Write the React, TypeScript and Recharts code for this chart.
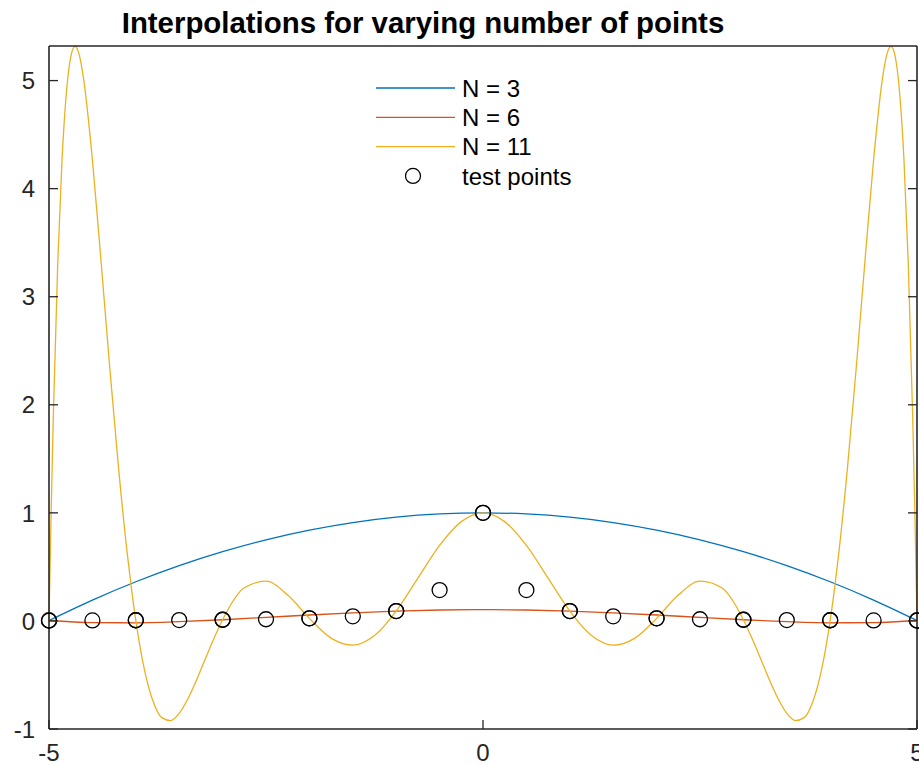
import { ComposedChart, Line, Scatter, XAxis, YAxis, Legend } from "recharts";

// Runge-style interpolation curves
const x3 = [-5, -4.5, -4, -3.5, -3, -2.5, -2, -1.5, -1, -0.5, 0, 0.5, 1, 1.5, 2, 2.5, 3, 3.5, 4, 4.5, 5];
const y3 = [0.004, 0.1932, 0.3625, 0.512, 0.6414, 0.751, 0.8406, 0.9104, 0.9602, 0.99, 1, 0.99, 0.9602, 0.9104, 0.8406, 0.751, 0.6414, 0.512, 0.3625, 0.1932, 0.004];

const x6 = [-5, -4.5, -4, -3.5, -3, -2.5, -2, -1.5, -1, -0.5, 0, 0.5, 1, 1.5, 2, 2.5, 3, 3.5, 4, 4.5, 5];
const y6 = [0.004, -0.0152, -0.0172, -0.0069, 0.011, 0.0327, 0.055, 0.0751, 0.0909, 0.101, 0.1045, 0.101, 0.0909, 0.0751, 0.055, 0.0327, 0.011, -0.0069, -0.0172, -0.0152, 0.004];

const x11 = [
  -5, -4.975, -4.95, -4.9, -4.85, -4.8, -4.75, -4.7, -4.65, -4.6, -4.5, -4.4, -4.3, -4.2, -4.1, -4.05, -4, -3.95, -3.9,
  -3.8, -3.7, -3.6, -3.5, -3.4, -3.3, -3.2, -3.1, -3, -2.75, -2.5, -2.25, -2, -1.75, -1.5, -1.25, -1, -0.75, -0.5, -0.25,
  0, 0.25, 0.5, 0.75, 1, 1.25, 1.5, 1.75, 2, 2.25, 2.5, 2.75, 3, 3.1, 3.2, 3.3, 3.4, 3.5, 3.6, 3.7, 3.8, 3.9, 3.95, 4,
  4.05, 4.1, 4.2, 4.3, 4.4, 4.5, 4.6, 4.65, 4.7, 4.75, 4.8, 4.85, 4.9, 4.95, 4.975, 5,
];
const y11 = [
  0.004, 1.021, 1.901, 3.296, 4.265, 4.885, 5.217, 5.317, 5.233, 5.007, 4.268, 3.326, 2.343, 1.425, 0.635, 0.299, 0.006,
  -0.244, -0.452, -0.746, -0.895, -0.922, -0.855, -0.72, -0.546, -0.353, -0.163, 0.011, 0.307, 0.368, 0.239, 0.024,
  -0.159, -0.224, -0.135, 0.091, 0.396, 0.699, 0.919,
  1, 0.919, 0.699, 0.396, 0.091, -0.135, -0.224, -0.159, 0.024, 0.239, 0.368, 0.307, 0.011, -0.163, -0.353, -0.546,
  -0.72, -0.855, -0.922, -0.895, -0.746, -0.452, -0.244, 0.006, 0.299, 0.635, 1.425, 2.343, 3.326, 4.268, 5.007, 5.233,
  5.317, 5.217, 4.885, 4.265, 3.296, 1.901, 1.021, 0.004,
];

const xTest = [-5, -4.5, -4, -3.5, -3, -2.5, -2, -1.5, -1, -0.5, 0, 0.5, 1, 1.5, 2, 2.5, 3, 3.5, 4, 4.5, 5];
const yTest = [0.004, 0.0049, 0.0062, 0.0081, 0.011, 0.0157, 0.0244, 0.0426, 0.0909, 0.2857, 1, 0.2857, 0.0909, 0.0426, 0.0244, 0.0157, 0.011, 0.0081, 0.0062, 0.0049, 0.004];

// interpolation nodes (integers) that are drawn over the test points
const xNodes = [-5, -4, -3, -2, -1, 0, 1, 2, 3, 4, 5];
const yNodes = [0.004, 0.0062, 0.011, 0.0244, 0.0909, 1, 0.0909, 0.0244, 0.011, 0.0062, 0.004];

const xTicks = [-5, 0, 5];
const yTicks = [-1, 0, 1, 2, 3, 4, 5];
const legendNames = ["N = 3", "N = 6", "N = 11", "test points"];
const title = "Interpolations for varying number of points";

const COLORS = ["#0072BD", "#D95319", "#EDB120"];
const AX = "#262626";
const FONT = "'Liberation Sans', Arial, Helvetica, sans-serif";

const rows = (xs: number[], ys: number[]) => xs.map((x, i) => ({ x, y: ys[i] }));

const LeftTick = (p: any) => (
  <g>
    <line x1={p.x + 14} x2={p.x + 23} y1={p.y} y2={p.y} stroke={AX} strokeWidth={1.3} />
    <text x={p.x} y={p.y} dy="0.36em" textAnchor="end" fontSize={24} fill={AX} fontFamily={FONT}>
      {p.payload.value}
    </text>
  </g>
);

const RightTick = (p: any) => <line x1={p.x} x2={p.x - 9} y1={p.y} y2={p.y} stroke={AX} strokeWidth={1.3} />;

const BottomTick = (p: any) => (
  <g>
    <line x1={p.x} x2={p.x} y1={p.y - 15} y2={p.y - 24} stroke={AX} strokeWidth={1.3} />
    <text x={p.x} y={p.y} dy="0.71em" textAnchor="middle" fontSize={24} fill={AX} fontFamily={FONT}>
      {p.payload.value}
    </text>
  </g>
);

const TopTick = (p: any) => <line x1={p.x} x2={p.x} y1={p.y} y2={p.y + 9} stroke={AX} strokeWidth={1.3} />;

const Ring = (p: any) => <circle cx={p.cx} cy={p.cy} r={7.5} fill="none" stroke="#000" strokeWidth={1.3} />;

const renderLegend = () => (
  <svg width={230} height={120} style={{ display: "block" }}>
    {legendNames.map((name, i) => {
      const cy = 15 + i * 29.3;
      return (
        <g key={name}>
          {i < 3 ? (
            <line x1={6} x2={85} y1={cy} y2={cy} stroke={COLORS[i]} strokeWidth={1.3} />
          ) : (
            <circle cx={43} cy={cy} r={7.5} fill="none" stroke="#000" strokeWidth={1.3} />
          )}
          <text x={92} y={cy} dy="0.36em" fontSize={24} fill="#000" fontFamily={FONT}>
            {name}
          </text>
        </g>
      );
    })}
  </svg>
);

export default function App() {
  const axisLine = { stroke: AX, strokeWidth: 1.6 };
  return (
    <div style={{ position: "absolute", left: 0, top: 0, width: 919, height: 765, background: "#fff", fontFamily: FONT }}>
      <div
        style={{
          position: "absolute",
          left: 0,
          top: 8,
          width: 846,
          textAlign: "center",
          fontSize: 29.4,
          lineHeight: "29px",
          fontWeight: "bold",
          color: "#000",
          zIndex: 2,
        }}
      >
        {title}
      </div>
      <ComposedChart width={919} height={765} margin={{ top: 36, right: 0, bottom: 0, left: 0 }}>
        <XAxis
          xAxisId="b"
          dataKey="x"
          type="number"
          domain={[-5, 5]}
          ticks={xTicks}
          interval={0}
          height={36}
          tickSize={0}
          tickMargin={15}
          tickLine={false}
          axisLine={axisLine}
          tick={BottomTick}
        />
        <XAxis
          xAxisId="t"
          orientation="top"
          dataKey="x"
          type="number"
          domain={[-5, 5]}
          ticks={xTicks}
          interval={0}
          height={10}
          tickSize={0}
          tickMargin={0}
          tickLine={false}
          axisLine={axisLine}
          tick={TopTick}
        />
        <YAxis
          yAxisId="l"
          dataKey="y"
          type="number"
          domain={[-1, 5.32]}
          allowDataOverflow
          ticks={yTicks}
          interval={0}
          width={49}
          tickSize={0}
          tickMargin={14}
          tickLine={false}
          axisLine={axisLine}
          tick={LeftTick}
        />
        <YAxis
          yAxisId="r"
          orientation="right"
          dataKey="y"
          type="number"
          domain={[-1, 5.32]}
          ticks={yTicks}
          interval={0}
          width={2}
          tickSize={0}
          tickMargin={0}
          tickLine={false}
          axisLine={axisLine}
          tick={RightTick}
        />
        <Legend
          layout="horizontal"
          verticalAlign="middle"
          align="center"
          content={renderLegend}
          wrapperStyle={{ position: "absolute", left: 370, top: 73, width: 230, height: 120 }}
        />
        <Line xAxisId="b" yAxisId="l" data={rows(x3, y3)} dataKey="y" name={legendNames[0]} type="monotone" dot={false} stroke={COLORS[0]} strokeWidth={1.3} isAnimationActive={false} />
        <Line xAxisId="b" yAxisId="l" data={rows(x6, y6)} dataKey="y" name={legendNames[1]} type="monotone" dot={false} stroke={COLORS[1]} strokeWidth={1.3} isAnimationActive={false} />
        <Line xAxisId="b" yAxisId="l" data={rows(x11, y11)} dataKey="y" name={legendNames[2]} type="monotone" dot={false} stroke={COLORS[2]} strokeWidth={1.3} isAnimationActive={false} />
        <Scatter xAxisId="b" yAxisId="r" data={rows(xTest, yTest)} dataKey="y" name={legendNames[3]} shape={Ring} isAnimationActive={false} />
        <Scatter xAxisId="b" yAxisId="r" data={rows(xNodes, yNodes)} dataKey="y" legendType="none" shape={Ring} isAnimationActive={false} />
      </ComposedChart>
    </div>
  );
}
